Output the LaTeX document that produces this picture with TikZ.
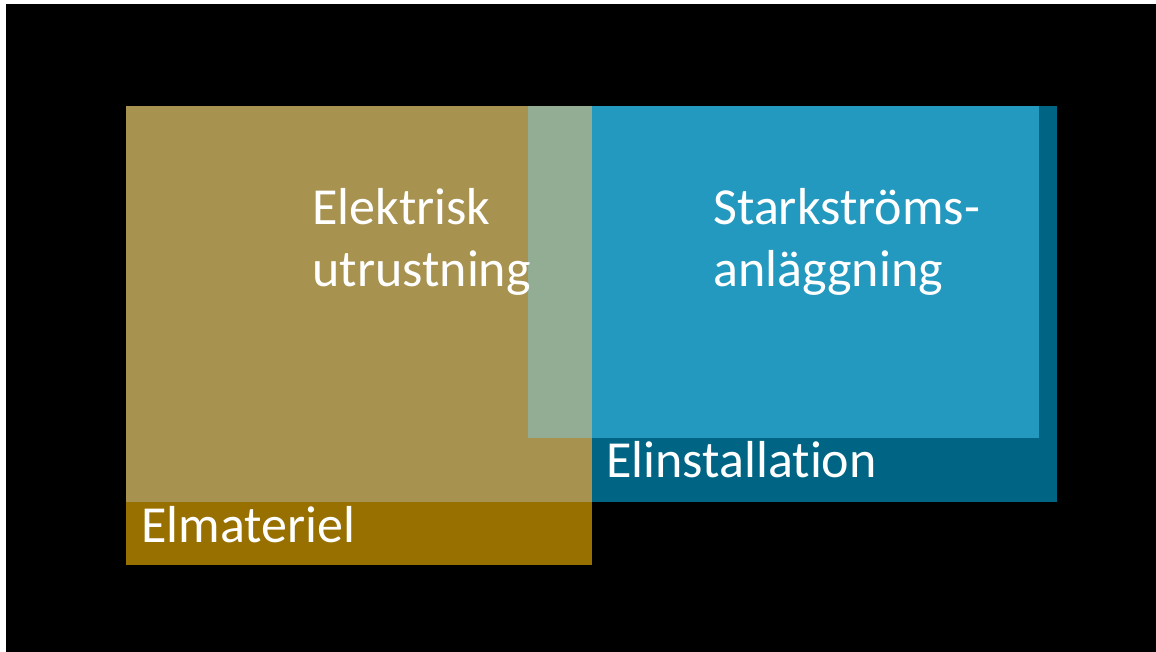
\documentclass[tikz,border=0pt]{standalone}
\usepackage{fontspec}
\setmainfont[Ligatures={NoCommon,NoRare}]{Carlito}
\usetikzlibrary{positioning}
\definecolor{goldlight}{HTML}{A89250}
\definecolor{golddark}{HTML}{987000}
\definecolor{overlap}{HTML}{93AD94}
\definecolor{bluelight}{HTML}{2499BF}
\definecolor{bluedark}{HTML}{006584}
\tikzset{lbl/.style={text=white,inner sep=0pt,anchor=base west,font=\fontsize{26}{31}\selectfont}}

\begin{document}
\begin{tikzpicture}[x=0.5pt,y=-0.5pt]
\fill[white] (0,0) rectangle (1156,652);
\fill[black] (6,4) rectangle (1156,652);
% boxes
\fill[golddark] (126,106) rectangle (592,565);
\fill[goldlight] (126,106) rectangle (592,502);
\fill[bluedark] (592,106) rectangle (1057,502);
\fill[bluelight] (528,106) rectangle (1039,438);
\fill[overlap] (528,106) rectangle (592,438);
% texts
\node[lbl] (elektrisk) at (312,225) {Elektrisk};
\node[lbl] (utrustning) at (312,286) {utrustning};
\node[lbl] (starkstroms) at (713,225) {Starkströms-};
\node[lbl] (anlaggning) at (713,286) {anläggning};
\node[lbl] (elinst) at (606,477) {Elinstallation};
\node[lbl] (elmat) at (141,542) {Elmateriel};
\end{tikzpicture}
\end{document}
